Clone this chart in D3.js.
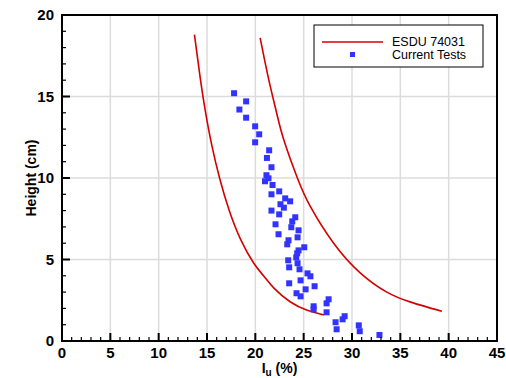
<!DOCTYPE html>
<html><head><meta charset="utf-8">
<script src="https://cdn.jsdelivr.net/npm/d3@7"></script>
<style>body{margin:0;background:#fff}svg{display:block}</style>
</head><body>
<svg id="c" width="506" height="378"></svg>
<script>
// Current Tests: turbulence intensity Iu (%) and height (cm)
const testIu = [17.8,19.05,18.35,19.05,19.98,20.4,19.98,21.43,21.2,21.67,21.15,21.36,21.0,21.78,22.47,21.67,23.09,23.6,22.6,22.95,21.67,22.47,24.13,23.82,22.09,23.72,24.47,22.4,24.37,23.43,23.3,25.06,24.47,24.33,24.23,23.4,24.37,23.5,24.57,25.4,25.7,24.68,23.5,26.13,25.2,24.26,24.68,27.58,27.37,26.03,26.03,27.37,29.24,29.03,28.3,30.7,28.41,30.8,32.84];
const testH  = [15.2,14.7,14.2,13.7,13.17,12.68,12.19,11.7,11.23,10.66,10.17,9.98,9.8,9.57,9.18,9.0,8.75,8.57,8.39,8.18,8.0,7.77,7.59,7.34,7.16,6.98,6.79,6.55,6.36,6.18,5.93,5.75,5.56,5.38,5.13,4.95,4.77,4.52,4.4,4.15,3.97,3.72,3.54,3.36,3.17,2.93,2.74,2.56,2.31,2.13,1.94,1.76,1.52,1.33,1.15,0.96,0.72,0.6,0.37];
// ESDU 74031 curves (two bounds)
const esduLowIu = [13.7,14.33,14.86,15.5,16.3,17.3,18.5,19.84,20.85,21.95,23.6,25.3,27.1];
const esduLowH  = [18.8,16.0,14.0,12.0,10.0,8.0,6.2,4.77,4.0,3.23,2.41,1.9,1.6];
const esduHighIu = [20.5,21.4,22.2,22.95,24.35,25.7,28.1,30.9,33.6,36.0,39.3];
const esduHighH  = [18.6,16.0,14.0,12.33,10.0,8.24,6.0,4.15,3.0,2.4,1.82];
const xTicks = [0,5,10,15,20,25,30,35,40,45];
const yTicks = [0,5,10,15,20];
const legendLabels = ["ESDU 74031","Current Tests"];

const svg = d3.select("#c");
const L=62,R=497,T=15,B=341;
const x = d3.scaleLinear().domain([0,45]).range([L,R]);
const y = d3.scaleLinear().domain([0,20]).range([B,T]);
const font = "'Liberation Sans', Arial, sans-serif";

// grid
svg.append("g").selectAll("line").data(xTicks.slice(1,-1)).join("line")
  .attr("x1",d=>x(d)).attr("x2",d=>x(d)).attr("y1",T).attr("y2",B)
  .attr("stroke","#dcdcdc").attr("stroke-width",1.5);
svg.append("g").selectAll("line").data(yTicks.slice(1,-1)).join("line")
  .attr("y1",d=>y(d)).attr("y2",d=>y(d)).attr("x1",L).attr("x2",R)
  .attr("stroke","#dcdcdc").attr("stroke-width",1.5);

// curves
const line = d3.line().x(d=>x(d[0])).y(d=>y(d[1])).curve(d3.curveNatural);
[[esduLowIu,esduLowH],[esduHighIu,esduHighH]].forEach(([a,b])=>{
  svg.append("path").datum(a.map((v,i)=>[v,b[i]])).attr("d",line)
    .attr("fill","none").attr("stroke","#d40000").attr("stroke-width",1.6);
});

// points
const pts = testIu.map((v,i)=>[v,testH[i]]);
svg.append("g").selectAll("rect").data(pts).join("rect")
  .attr("x",d=>x(d[0])-3).attr("y",d=>y(d[1])-3).attr("width",6).attr("height",6)
  .attr("fill","#3333ff");

// axes with inward ticks
const xMinor = d3.range(0,46,1), yMinor = d3.range(0,21,1);
const ax = svg.append("g");
ax.selectAll("line.xt").data(xMinor).join("line")
  .attr("x1",d=>x(d)).attr("x2",d=>x(d)).attr("y1",B).attr("y2",d=>B-(d%5===0?8:4))
  .attr("stroke","#000").attr("stroke-width",d=>d%5===0?2:1.2);
ax.selectAll("line.yt").data(yMinor).join("line")
  .attr("y1",d=>y(d)).attr("y2",d=>y(d)).attr("x1",L).attr("x2",d=>L+(d%5===0?8:4))
  .attr("stroke","#000").attr("stroke-width",d=>d%5===0?2:1.2);
svg.append("rect").attr("x",L).attr("y",T).attr("width",R-L).attr("height",B-T)
  .attr("fill","none").attr("stroke","#000").attr("stroke-width",2);

// tick labels
svg.append("g").selectAll("text").data(xTicks).join("text")
  .attr("x",d=>x(d)).attr("y",B+17).attr("text-anchor","middle")
  .attr("font-family",font).attr("font-weight","bold").attr("font-size",15).text(d=>d);
svg.append("g").selectAll("text").data(yTicks).join("text")
  .attr("x",L-8).attr("y",d=>y(d)+5).attr("text-anchor","end")
  .attr("font-family",font).attr("font-weight","bold").attr("font-size",15).text(d=>d);

// axis titles
const xt = svg.append("text").attr("x",x(22.5)).attr("y",373).attr("text-anchor","middle")
  .attr("font-family",font).attr("font-weight","bold").attr("font-size",14);
xt.append("tspan").text("I");
xt.append("tspan").attr("font-size",10).attr("dy",3).text("u");
xt.append("tspan").attr("dy",-3).text(" (%)");
svg.append("text").attr("transform",`translate(36,${(T+B)/2}) rotate(-90)`)
  .attr("text-anchor","middle").attr("font-family",font).attr("font-weight","bold")
  .attr("font-size",14).text("Height (cm)");

// legend
const lg = svg.append("g");
lg.append("rect").attr("x",314).attr("y",25).attr("width",169).attr("height",42)
  .attr("fill","#fff").attr("stroke","#000").attr("stroke-width",1);
lg.append("line").attr("x1",322).attr("x2",383).attr("y1",42).attr("y2",42)
  .attr("stroke","#d40000").attr("stroke-width",1.6);
lg.append("rect").attr("x",350).attr("y",52).attr("width",5).attr("height",5).attr("fill","#3333ff");
lg.selectAll("text").data(legendLabels).join("text")
  .attr("x",392).attr("y",(d,i)=>46+i*13).attr("font-family",font).attr("font-size",12.5)
  .text(d=>d);
</script>
</body></html>
